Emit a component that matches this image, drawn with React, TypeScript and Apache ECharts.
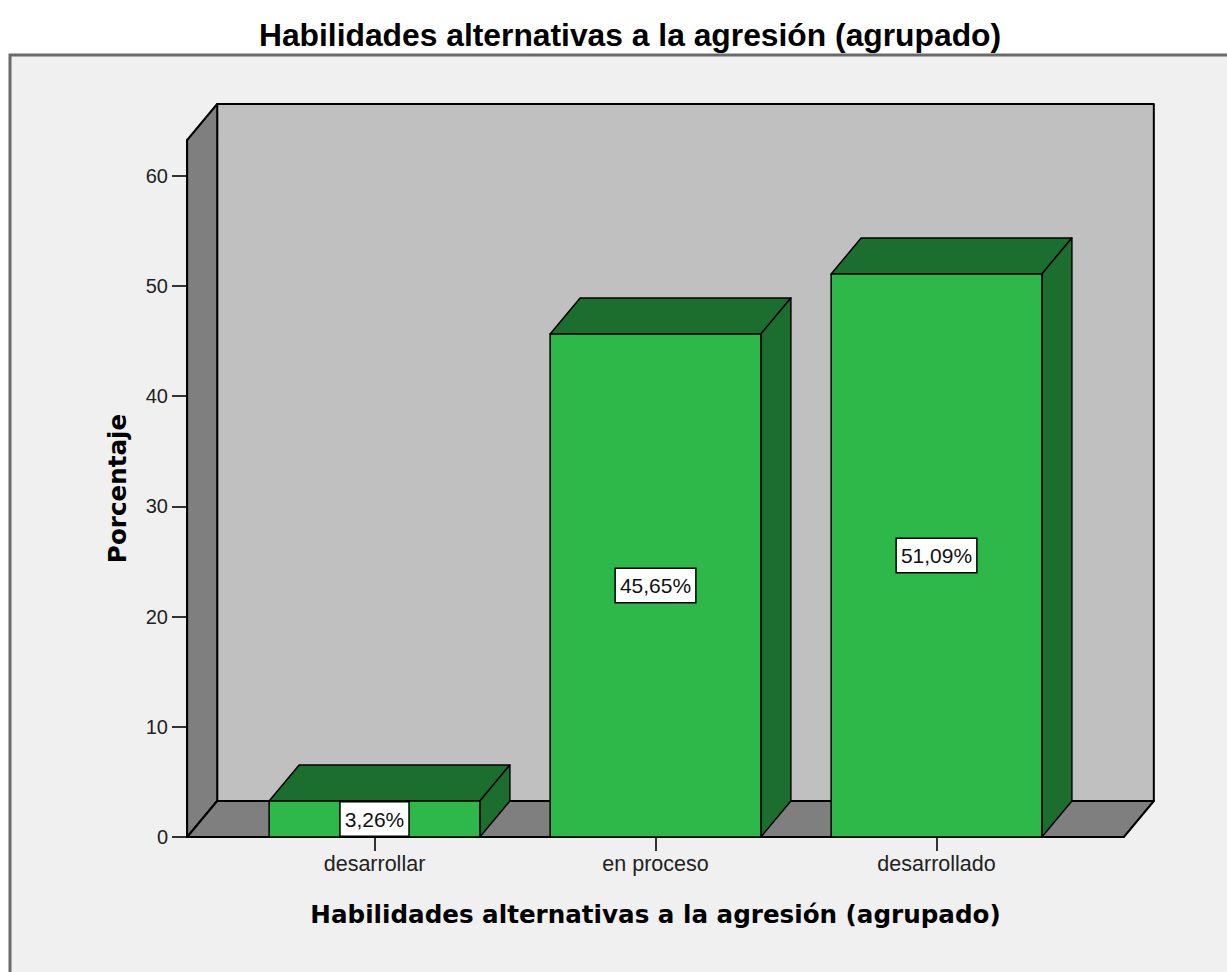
import React, { useEffect, useRef } from "react";
import * as echarts from "echarts";

const titleText = "Habilidades alternativas a la agresión (agrupado)";
const xAxisTitle = "Habilidades alternativas a la agresión (agrupado)";
const yAxisTitle = "Porcentaje";
const categories = ["desarrollar", "en proceso", "desarrollado"];
const percentages = [3.26, 45.65, 51.09];
const yTicks = [0, 10, 20, 30, 40, 50, 60];
const yMax = 63.25;

const DX = 30;
const DY = 36;
const FRONT = "#2eb84a";
const DARK = "#1c6e2e";
const BACKWALL = "#c0c0c0";
const SIDEWALL = "#7f7f7f";

function fmt(v: number) {
  return v.toFixed(2).replace(".", ",") + "%";
}

export default function App() {
  const ref = useRef<HTMLDivElement>(null);
  useEffect(() => {
    if (!ref.current) return;
    const chart = echarts.init(ref.current, null, { renderer: "svg" });
    const option: any = {
      animation: false,
      title: {
        text: titleText,
        left: 625,
        textAlign: "center",
        top: 14,
        textStyle: {
          fontFamily: "Liberation Sans, Arial, sans-serif",
          fontWeight: "bold",
          fontSize: 31.8,
          color: "#000",
        },
      },
      graphic: [
        {
          type: "rect",
          z: -10,
          silent: true,
          shape: { x: 10, y: 55, width: 1400, height: 1100 },
          style: { fill: "#f0f0f0", stroke: "#6a6a6a", lineWidth: 3 },
        },
      ],
      grid: { left: 234, right: 150, top: 140, bottom: 135, containLabel: false },
      xAxis: {
        type: "category",
        data: categories,
        boundaryGap: true,
        axisLine: { show: false },
        axisTick: {
          show: true,
          alignWithLabel: true,
          length: 14,
          lineStyle: { color: "#333", width: 2 },
        },
        axisLabel: {
          margin: 16,
          fontFamily: "Liberation Sans, Arial, sans-serif",
          fontSize: 21.5,
          color: "#222",
        },
        name: xAxisTitle,
        nameLocation: "middle",
        nameGap: 65,
        nameTextStyle: {
          fontFamily: "DejaVu Sans, sans-serif",
          fontWeight: "bold",
          fontSize: 24.6,
          color: "#000",
        },
        splitLine: { show: false },
      },
      yAxis: {
        type: "value",
        min: 0,
        max: yMax,
        interval: 10,
        offset: 47,
        axisLine: { show: true, lineStyle: { color: "#000", width: 2 } },
        axisTick: {
          show: true,
          length: 15,
          customValues: yTicks,
          lineStyle: { color: "#333", width: 2 },
        },
        axisLabel: {
          margin: 19,
          customValues: yTicks,
          fontFamily: "Liberation Sans, Arial, sans-serif",
          fontSize: 20,
          color: "#222",
        },
        splitLine: { show: false },
        name: yAxisTitle,
        nameLocation: "middle",
        nameRotate: 90,
        nameGap: 57,
        nameTextStyle: {
          fontFamily: "DejaVu Sans, sans-serif",
          fontWeight: "bold",
          fontSize: 24.6,
          color: "#000",
        },
      },
      series: [
        {
          type: "custom",
          z: 1,
          clip: false,
          silent: true,
          data: [[0, 0]],
          renderItem: (params: any, api: any) => {
            const cs = params.coordSys;
            const band = cs.width / categories.length;
            const ext = band / 6;
            const L = cs.x - ext;
            const R = cs.x + cs.width + ext;
            const y0 = api.coord([0, 0])[1];
            const yT = cs.y;
            const st = { stroke: "#000", lineWidth: 2, lineJoin: "round" };
            return {
              type: "group",
              children: [
                {
                  type: "polygon",
                  shape: {
                    points: [
                      [L + DX, yT - DY],
                      [R + DX, yT - DY],
                      [R + DX, y0 - DY],
                      [L + DX, y0 - DY],
                    ],
                  },
                  style: { fill: BACKWALL, ...st },
                },
                {
                  type: "polygon",
                  shape: {
                    points: [
                      [L, y0],
                      [L, yT],
                      [L + DX, yT - DY],
                      [L + DX, y0 - DY],
                    ],
                  },
                  style: { fill: SIDEWALL, ...st },
                },
                {
                  type: "polygon",
                  shape: {
                    points: [
                      [L, y0],
                      [L + DX, y0 - DY],
                      [R + DX, y0 - DY],
                      [R, y0],
                    ],
                  },
                  style: { fill: SIDEWALL, ...st },
                },
              ],
            };
          },
        },
        {
          type: "custom",
          z: 3,
          clip: false,
          data: percentages.map((v, i) => [i, v]),
          encode: { x: 0, y: 1 },
          renderItem: (params: any, api: any) => {
            const idx = api.value(0);
            const val = api.value(1);
            const top = api.coord([idx, val]);
            const bot = api.coord([idx, 0]);
            const bw = api.size([1, 0])[0] * 0.75;
            const cx = top[0];
            const ty = top[1];
            const by = bot[1];
            const x1 = cx - bw / 2;
            const x2 = cx + bw / 2;
            const st = { stroke: "#000", lineWidth: 1.5, lineJoin: "round" };
            return {
              type: "group",
              children: [
                {
                  type: "polygon",
                  shape: {
                    points: [
                      [x1, ty],
                      [x1 + DX, ty - DY],
                      [x2 + DX, ty - DY],
                      [x2, ty],
                    ],
                  },
                  style: { fill: DARK, ...st },
                },
                {
                  type: "polygon",
                  shape: {
                    points: [
                      [x2, ty],
                      [x2 + DX, ty - DY],
                      [x2 + DX, by - DY],
                      [x2, by],
                    ],
                  },
                  style: { fill: DARK, ...st },
                },
                {
                  type: "rect",
                  shape: { x: x1, y: ty, width: bw, height: by - ty },
                  style: { fill: FRONT, ...st },
                },
                {
                  type: "text",
                  x: cx,
                  y: (ty + by) / 2,
                  style: {
                    text: fmt(val),
                    align: "center",
                    verticalAlign: "middle",
                    fontFamily: "Liberation Sans, Arial, sans-serif",
                    fontSize: 21,
                    fill: "#111",
                    backgroundColor: "#fff",
                    borderColor: "#000",
                    borderWidth: 1.5,
                    padding: [6, 4, 6, 4],
                  },
                },
              ],
            };
          },
        },
      ],
    };
    chart.setOption(option);
    return () => chart.dispose();
  }, []);
  return (
    <div
      ref={ref}
      style={{ position: "fixed", left: 0, top: 0, width: 1227, height: 972, background: "#fff" }}
    />
  );
}
